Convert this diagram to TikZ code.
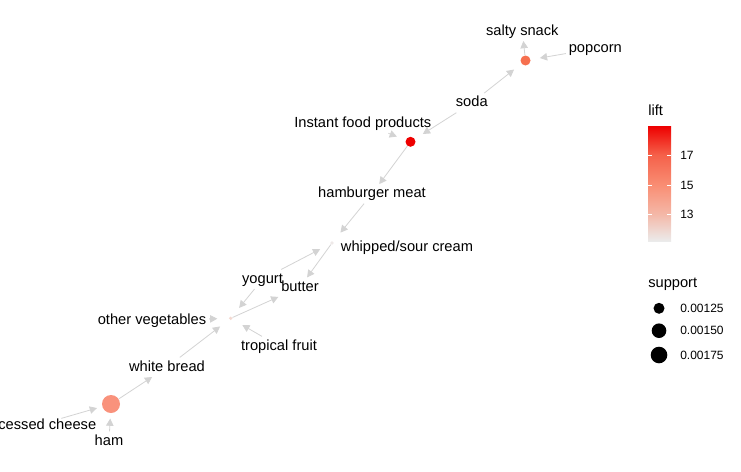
\documentclass[tikz,border=0pt]{standalone}
\usepackage{fontspec}
\setmainfont{Liberation Sans}
\usetikzlibrary{arrows.meta}
\definecolor{edgegray}{HTML}{D3D3D3}
\definecolor{rOne}{HTML}{F6704F}
\definecolor{rTwo}{HTML}{EE0000}
\definecolor{rThree}{HTML}{EEE9E8}
\definecolor{rFour}{HTML}{F3D8D0}
\definecolor{rFive}{HTML}{F9927C}
\definecolor{barlow}{HTML}{EBEBEB}
\definecolor{cthirteen}{HTML}{F4B8A8}
\definecolor{cfifteen}{HTML}{F98E74}
\definecolor{cseventeen}{HTML}{F5614A}
\definecolor{bartop}{HTML}{EE0000}
\pgfdeclareverticalshading{liftbar}{100bp}{color(0bp)=(barlow); color(25bp)=(barlow);
  color(36.6bp)=(cthirteen); color(49.2bp)=(cfifteen); color(62.4bp)=(cseventeen);
  color(75bp)=(bartop); color(100bp)=(bartop)}
\begin{document}
\begin{tikzpicture}[x=0.75pt,y=-0.75pt,
  lbl/.style={font=\fontsize{11}{13}\selectfont, anchor=base, inner sep=2pt,
    text height=8pt, text depth=2.3pt},
  legtitle/.style={font=\fontsize{11}{13}\selectfont, anchor=base west, inner sep=0pt},
  legtext/.style={font=\fontsize{9}{11}\selectfont, anchor=west, inner sep=0pt,
    text height=6.4pt, text depth=0pt},
  dot/.style={circle, inner sep=0pt, draw=none},
  edge/.style={draw=edgegray, line width=0.6pt,
    -{Triangle[length=5.4pt, width=5.6pt]}},
  tick/.style={draw=white, line width=0.7pt}
]
\useasboundingbox (0,0) rectangle (741,471);
\clip (0,0) rectangle (741,471);

% rule nodes
\node[dot, fill=rOne, minimum size=10pt*0.75] (R1) at (525.5,60.5) {};
\node[dot, fill=rTwo, minimum size=10pt*0.75] (R2) at (410.5,141.8) {};
\node[dot, fill=rThree, minimum size=3.6pt*0.75] (R3) at (332,243) {};
\node[dot, fill=rFour, minimum size=3.6pt*0.75] (R4) at (230.7,318.3) {};
\node[dot, fill=rFive, minimum size=18pt*0.75] (R5) at (111,404) {};

% item labels
\node[lbl] (salty) at (522.3,35) {salty snack};
\node[lbl] (popcorn) at (595.3,52.3) {popcorn};
\node[lbl] (soda) at (471.8,106.7) {soda};
\node[lbl] (instant) at (362.8,127.3) {Instant food products};
\node[lbl] (hamb) at (372,197.7) {hamburger meat};
\node[lbl] (whip) at (407,251) {whipped/sour cream};
\node[lbl] (yogurt) at (262.5,283) {yogurt};
\node[lbl] (butter) at (300,291) {butter};
\node[lbl] (otherveg) at (152,324.3) {other vegetables};
\node[lbl] (tropical) at (279,350) {tropical fruit};
\node[lbl] (white) at (167,371) {white bread};
\node[lbl, anchor=base east, inner sep=0pt] (cheese) at (96.5,429.3) {processed cheese};
\node[lbl] (ham) at (109,445) {ham};

% edges
\draw[edge] (R1) -- (salty);
\draw[edge, shorten >=7pt] (popcorn) -- (R1);
\draw[edge, shorten >=7pt] (soda) -- (R1);
\draw[edge, shorten >=7pt] (soda) -- (R2);
\draw[edge, shorten >=7pt] (instant) -- (R2);
\draw[edge] (R2) -- (hamb);
\draw[edge, shorten >=8.5pt] (hamb) -- (R3);
\draw[edge, shorten >=8.5pt] (yogurt) -- (R3);
\draw[edge] (R3) -- (butter);
\draw[edge, shorten >=8.5pt] (yogurt) -- (R4);
\draw[edge, shorten >=8.5pt] (otherveg) -- (R4);
\draw[edge, shorten >=8.5pt] (tropical) -- (R4);
\draw[edge, shorten >=8.5pt] (white) -- (R4);
\draw[edge] (R4) -- (butter);
\draw[edge, shorten >=4pt] (cheese) -- (R5);
\draw[edge, shorten >=4pt] (ham) -- (R5);
\draw[edge] (R5) -- (white);

% legend: lift
\node[legtitle] (lifttitle) at (648,115) {lift};
\shade[shading=liftbar] (648,126) rectangle (671,241);
\foreach \yy/\lab in {155/17,185.3/15,214.3/13}{
  \draw[tick] (648,\yy) -- (652,\yy);
  \draw[tick] (667,\yy) -- (671,\yy);
  \node[legtext] (tick\lab) at (680,\yy) {\lab};
}
% legend: support
\node[legtitle] (supptitle) at (648,287) {support};
\node[dot, fill=black, minimum size=11pt*0.75] (s1) at (659,308.3) {};
\node[dot, fill=black, minimum size=14.6pt*0.75] (s2) at (659,330.7) {};
\node[dot, fill=black, minimum size=16.6pt*0.75] (s3) at (659,355) {};
\node[legtext] (s1l) at (680,308.3) {0.00125};
\node[legtext] (s2l) at (680,330.7) {0.00150};
\node[legtext] (s3l) at (680,355) {0.00175};
\end{tikzpicture}
\end{document}
